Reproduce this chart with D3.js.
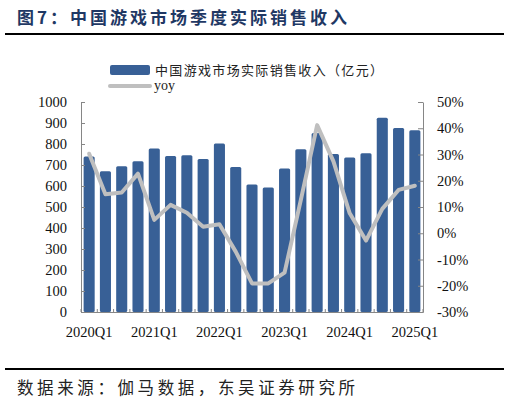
<!DOCTYPE html>
<html>
<head>
<meta charset="utf-8">
<script src="https://cdn.jsdelivr.net/npm/d3@7"></script>
<style>
  body { margin: 0; background: #fff; }
  svg { display: block; }
</style>
</head>
<body>
<div class="container"></div>
<script>
const width = 510;
const height = 403;

// quarterly data
const quarters = ['2020Q1','2020Q2','2020Q3','2020Q4','2021Q1','2021Q2','2021Q3','2021Q4',
                  '2022Q1','2022Q2','2022Q3','2022Q4','2023Q1','2023Q2','2023Q3','2023Q4',
                  '2024Q1','2024Q2','2024Q3','2024Q4','2025Q1']
const revenue = [740, 670, 694, 718, 779, 743, 747, 729, 802, 690, 607, 593,
                 683, 775, 852, 752, 736, 756, 925, 876, 866]
const yoy = [30.3, 14.9, 15.5, 22.7, 5.1, 10.8, 7.8, 2.5, 3.4, -7.0, -19.1, -19.1,
             -15.0, 12.7, 41.2, 27.4, 7.6, -2.8, 9.3, 16.5, 18.1]
const leftTicks = [0, 100, 200, 300, 400, 500, 600, 700, 800, 900, 1000]
const rightTicks = [-30, -20, -10, 0, 10, 20, 30, 40, 50]
const xLabels = ['2020Q1','2021Q1','2022Q1','2023Q1','2024Q1','2025Q1']

const barColor = '#386096'
const lineColor = '#BFBFBF'
const axisColor = '#868686'
const serif = '"Liberation Serif", "Times New Roman", serif'
const cjk = '"Noto Sans CJK SC", sans-serif'

var svg = d3.select('.container')
        .append('svg')
        .attr('width', width)
        .attr('height', height)

// title
svg.append('text')
    .attr('x', 17)
    .attr('y', 24)
    .attr('textLength', 330)
    .attr('lengthAdjust', 'spacing')
    .style('font-family', cjk)
    .style('font-weight', 'bold')
    .style('font-size', '17px')
    .style('fill', '#1F3864')
    .text('图7：中国游戏市场季度实际销售收入')

svg.append('line')
    .attr('x1', 5).attr('x2', 504)
    .attr('y1', 34).attr('y2', 34)
    .style('stroke', '#000')
    .style('stroke-width', 2)

// legend
svg.append('rect')
    .attr('x', 110).attr('y', 65)
    .attr('width', 40).attr('height', 10)
    .attr('rx', 2)
    .style('fill', barColor)
svg.append('text')
    .attr('x', 155).attr('y', 75)
    .attr('textLength', 228)
    .attr('lengthAdjust', 'spacing')
    .style('font-family', cjk)
    .style('font-size', '13px')
    .style('fill', '#222')
    .text('中国游戏市场实际销售收入（亿元）')
svg.append('line')
    .attr('x1', 110).attr('x2', 150)
    .attr('y1', 86).attr('y2', 86)
    .style('stroke', lineColor)
    .style('stroke-width', 4)
    .style('stroke-linecap', 'round')
svg.append('text')
    .attr('x', 154).attr('y', 90)
    .style('font-family', serif)
    .style('font-size', '14px')
    .style('fill', '#222')
    .text('yoy')

// scales
var scaleX = d3.scaleBand()
        .domain(quarters)
        .range([81, 423])
        .paddingInner(0.32)
        .paddingOuter(0.16)

var scaleY = d3.scaleLinear()
        .domain([0, 1000])
        .range([312, 102])

var scaleY2 = d3.scaleLinear()
        .domain([-30, 50])
        .range([312, 102])

// bars
svg.append('g')
    .selectAll('rect')
    .data(revenue)
    .enter()
    .append('rect')
    .attr('x', (d, i) => scaleX(quarters[i]))
    .attr('y', (d) => scaleY(d))
    .attr('width', scaleX.bandwidth())
    .attr('height', (d) => scaleY(0) - scaleY(d))
    .attr('rx', 1.5)
    .style('fill', barColor)

// yoy line
var line = d3.line()
        .x((d, i) => scaleX(quarters[i]) + scaleX.bandwidth() / 2)
        .y((d) => scaleY2(d))

svg.append('path')
    .datum(yoy)
    .attr('d', line)
    .style('fill', 'none')
    .style('stroke', lineColor)
    .style('stroke-width', 4)
    .style('stroke-linejoin', 'round')
    .style('stroke-linecap', 'round')

// axes
var y_axis = d3.axisLeft(scaleY)
        .tickValues(leftTicks)
        .tickFormat(d3.format('d'))
        .tickSize(-4)
        .tickPadding(14)
        .tickSizeOuter(0)

var y_axis2 = d3.axisRight(scaleY2)
        .tickValues(rightTicks)
        .tickFormat((d) => d + '%')
        .tickSize(-5)
        .tickPadding(14)
        .tickSizeOuter(0)

var x_axis = d3.axisBottom(scaleX)
        .tickValues(xLabels)
        .tickSize(0)
        .tickPadding(15)
        .tickSizeOuter(0)

function styleAxis(g) {
    g.selectAll('path, line').style('stroke', axisColor).style('stroke-width', 1)
    g.selectAll('text')
        .style('font-family', serif)
        .style('font-size', '14.5px')
        .style('fill', '#111')
}

svg.append('g')
    .attr('transform', 'translate(81, 0)')
    .call(y_axis)
    .call(styleAxis)

svg.append('g')
    .attr('transform', 'translate(423, 0)')
    .call(y_axis2)
    .call(styleAxis)

svg.append('g')
    .attr('transform', 'translate(0, 312)')
    .call(x_axis)
    .call(styleAxis)

// small ticks between categories on the x axis
var gap = scaleX.step() - scaleX.bandwidth()
var edges = quarters.map((q) => scaleX(q) - gap / 2)
edges.push(scaleX(quarters[quarters.length - 1]) + scaleX.bandwidth() + gap / 2)
svg.append('g')
    .selectAll('line')
    .data(edges)
    .enter()
    .append('line')
    .attr('x1', (d) => d)
    .attr('x2', (d) => d)
    .attr('y1', 312)
    .attr('y2', 309)
    .style('stroke', axisColor)

// footer
svg.append('line')
    .attr('x1', 5).attr('x2', 504)
    .attr('y1', 369).attr('y2', 369)
    .style('stroke', '#000')
    .style('stroke-width', 2)

svg.append('text')
    .attr('x', 17)
    .attr('y', 394)
    .attr('textLength', 338)
    .attr('lengthAdjust', 'spacing')
    .style('font-family', cjk)
    .style('font-size', '16.5px')
    .style('fill', '#222')
    .text('数据来源：伽马数据，东吴证券研究所')
</script>
</body>
</html>
